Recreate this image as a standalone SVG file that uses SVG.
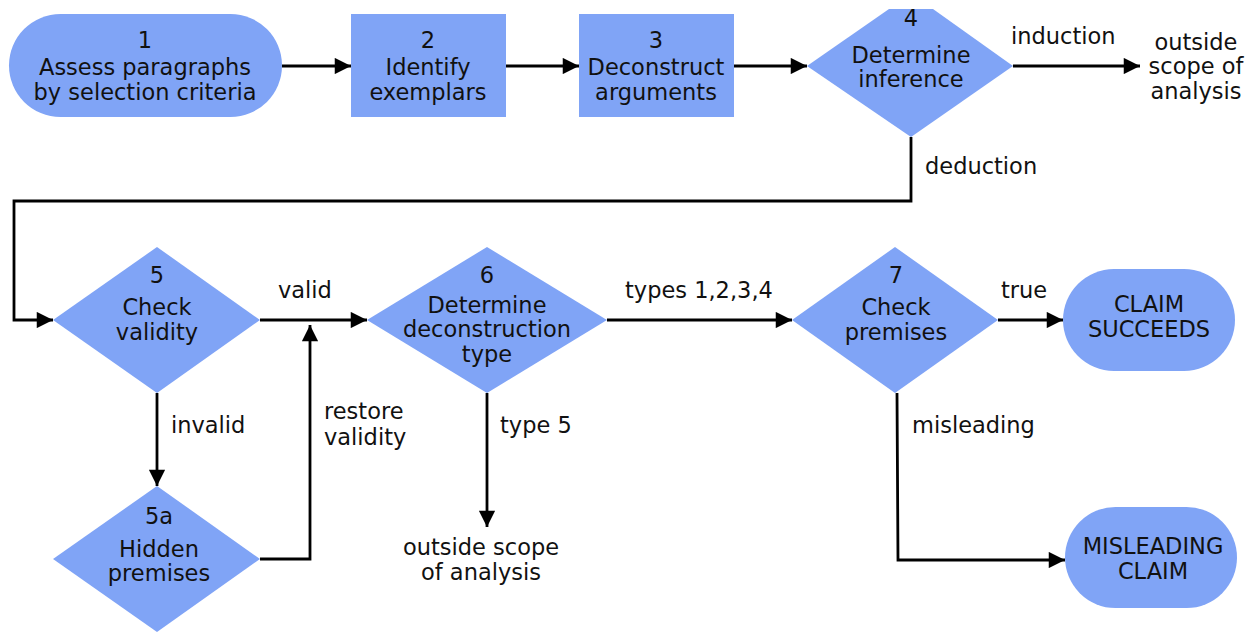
<svg xmlns="http://www.w3.org/2000/svg" width="1251" height="632" viewBox="0 0 1251 632">
  <style>
    .shape { fill: #80a4f6; stroke: none; }
    text { font-family: "DejaVu Sans", "Noto Sans", sans-serif; font-size: 22.5px; fill: #111; text-anchor: middle; dominant-baseline: central; }
    .lbl { text-anchor: start; }
    .conn { fill: none; stroke: #000; stroke-width: 2.8; }
  </style>
  <defs>
    <marker id="arrow" viewBox="0 0 10 10" refX="10" refY="5" markerWidth="6" markerHeight="5.8" markerUnits="strokeWidth" orient="auto">
      <path d="M0,0 L10,5 L0,10 z" fill="#000"/>
    </marker>
  </defs>

  <rect width="1251" height="632" fill="#fff"/>

  <!-- connectors -->
  <g id="connectors">
    <path class="conn" d="M282,66 H351" marker-end="url(#arrow)"/>
    <path class="conn" d="M506,66 H579" marker-end="url(#arrow)"/>
    <path class="conn" d="M734,66 H807" marker-end="url(#arrow)"/>
    <path class="conn" d="M1013,66 H1140" marker-end="url(#arrow)"/>
    <path class="conn" d="M911,137 V201 H14 V320 H53" marker-end="url(#arrow)"/>
    <path class="conn" d="M260,320 H367" marker-end="url(#arrow)"/>
    <path class="conn" d="M157,393 V486" marker-end="url(#arrow)"/>
    <path class="conn" d="M260,559 H310 V325" marker-end="url(#arrow)"/>
    <path class="conn" d="M607,320 H792" marker-end="url(#arrow)"/>
    <path class="conn" d="M487,393 V527" marker-end="url(#arrow)"/>
    <path class="conn" d="M998,320 H1063" marker-end="url(#arrow)"/>
    <path class="conn" d="M897,393 L898,560 H1065" marker-end="url(#arrow)"/>

    <text class="lbl" x="1011" y="36">induction</text>
    <text class="lbl" x="925" y="166">deduction</text>
    <text class="lbl" x="278" y="290">valid</text>
    <text class="lbl" x="171" y="425">invalid</text>
    <text class="lbl" x="324" y="411">restore</text>
    <text class="lbl" x="324" y="437">validity</text>
    <text class="lbl" x="625" y="290">types 1,2,3,4</text>
    <text class="lbl" x="500" y="425">type 5</text>
    <text class="lbl" x="1001" y="290">true</text>
    <text class="lbl" x="912" y="425">misleading</text>
    <text x="1196" y="42">outside</text>
    <text x="1196" y="66">scope of</text>
    <text x="1196" y="91">analysis</text>
    <text x="481" y="547">outside scope</text>
    <text x="481" y="572">of analysis</text>
  </g>

  <g id="n1">
    <rect class="shape" x="9" y="14" width="273" height="103" rx="51.5"/>
    <text x="145" y="40">1</text>
    <text x="145" y="67">Assess paragraphs</text>
    <text x="145" y="92">by selection criteria</text>
  </g>

  <g id="n2">
    <rect class="shape" x="351" y="14" width="155" height="103"/>
    <text x="428" y="40">2</text>
    <text x="428" y="67">Identify</text>
    <text x="428" y="92">exemplars</text>
  </g>

  <g id="n3">
    <rect class="shape" x="579" y="14" width="155" height="103"/>
    <text x="656" y="40">3</text>
    <text x="656" y="67">Deconstruct</text>
    <text x="656" y="92">arguments</text>
  </g>

  <g id="n4">
    <polygon class="shape" points="807,66 889,9 933,9 1013,66 911,137"/>
    <text x="911" y="18">4</text>
    <text x="911" y="55">Determine</text>
    <text x="911" y="79">inference</text>
  </g>

  <g id="n5">
    <polygon class="shape" points="53,320 157,247 260,320 157,393"/>
    <text x="157" y="275">5</text>
    <text x="157" y="307">Check</text>
    <text x="157" y="332">validity</text>
  </g>

  <g id="n5a">
    <polygon class="shape" points="53,559 157,486 260,559 157,632"/>
    <text x="159" y="516">5a</text>
    <text x="159" y="549">Hidden</text>
    <text x="159" y="573">premises</text>
  </g>

  <g id="n6">
    <polygon class="shape" points="367,320 487,247 607,320 487,393"/>
    <text x="487" y="275">6</text>
    <text x="487" y="305">Determine</text>
    <text x="487" y="329">deconstruction</text>
    <text x="487" y="354">type</text>
  </g>

  <g id="n7">
    <polygon class="shape" points="792,320 895,247 998,320 895,393"/>
    <text x="896" y="275">7</text>
    <text x="896" y="307">Check</text>
    <text x="896" y="332">premises</text>
  </g>

  <g id="n8">
    <rect class="shape" x="1063" y="269" width="172" height="102" rx="51"/>
    <text x="1149" y="304">CLAIM</text>
    <text x="1149" y="329">SUCCEEDS</text>
  </g>

  <g id="n9">
    <rect class="shape" x="1065" y="507" width="172" height="101" rx="50.5"/>
    <text x="1153" y="546">MISLEADING</text>
    <text x="1153" y="571">CLAIM</text>
  </g>
</svg>
